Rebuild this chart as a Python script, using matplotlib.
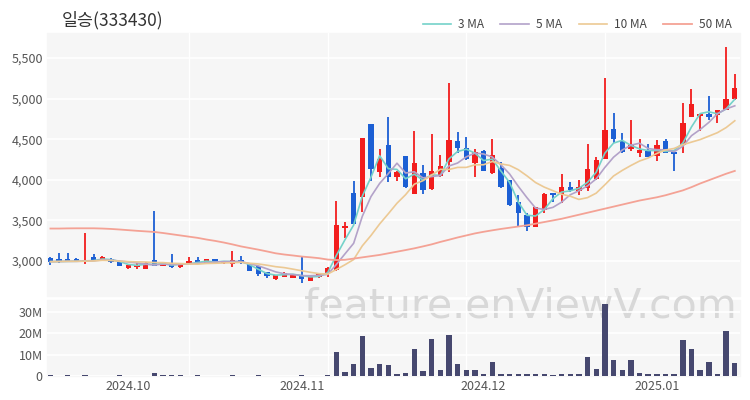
import numpy as np
import pandas as pd
import matplotlib
matplotlib.use("Agg")
import matplotlib.pyplot as plt
from matplotlib.patches import Rectangle
from matplotlib.ticker import FuncFormatter

plt.rcParams['font.family'] = ['Noto Sans CJK KR', 'DejaVu Sans']

# 종목 / 거래일
title = "일승(333430)"
holidays = ['2024-09-16', '2024-09-17', '2024-09-18', '2024-10-01', '2024-10-03',
            '2024-10-09', '2024-12-25', '2024-12-31', '2025-01-01']
dates = pd.bdate_range('2024-09-13', periods=80, freq='C', holidays=holidays)

# 시가 / 고가 / 저가 / 종가
opens = [3041, 3021, 3021, 3021, 2990, 3045, 3012, 3029, 2996, 2914,
         2922, 2906, 3012, 2938, 2971, 2922, 2971, 3012, 2971, 3021,
         2971, 2963, 3012, 2963, 2938, 2864, 2774, 2807, 2791, 2832,
         2758, 2799, 2840, 2889, 3410, 3842, 3793, 4688, 4101, 4429,
         4031, 4294, 3825, 4080, 3883, 4047, 4224, 4478, 4388, 4203,
         4360, 4088, 4142, 3998, 3731, 3567, 3423, 3628, 3834, 3825,
         3908, 3867, 3895, 4006, 4260, 4627, 4480, 4376, 4335, 4360,
         4294, 4483, 4347, 4429, 4770, 4786, 4811, 4799, 4860, 4992]
highs = [3045, 3094, 3094, 3033, 3341, 3086, 3058, 3035, 3000, 2950,
         2979, 2985, 3620, 2992, 3086, 2975, 3045, 3045, 3025, 3025,
         3000, 3127, 3062, 2965, 2942, 2868, 2827, 2860, 2836, 3062,
         2811, 2852, 2930, 3743, 3485, 3986, 4515, 4690, 4376, 4770,
         4105, 4298, 4606, 4183, 4565, 4306, 5197, 4593, 4524, 4376,
         4365, 4499, 4224, 4000, 3813, 3595, 3665, 3842, 3838, 4072,
         3978, 3998, 4441, 4277, 5250, 4828, 4573, 4737, 4499, 4442,
         4491, 4499, 4350, 4942, 5115, 4815, 5033, 4865, 5641, 5304]
lows = [2951, 2979, 2992, 2988, 2963, 3010, 3008, 2979, 2935, 2897,
        2897, 2900, 2935, 2935, 2920, 2918, 2968, 2963, 2968, 2968,
        2968, 2922, 2968, 2878, 2815, 2791, 2770, 2803, 2787, 2733,
        2755, 2795, 2807, 2880, 3280, 3450, 3608, 3990, 4031, 3977,
        3990, 3905, 3822, 3825, 3880, 4031, 4101, 4326, 4245, 4039,
        4110, 4072, 3905, 3680, 3431, 3374, 3420, 3595, 3731, 3710,
        3855, 3813, 3867, 4000, 4255, 4458, 4335, 4360, 4277, 4277,
        4236, 4327, 4113, 4327, 4770, 4606, 4737, 4696, 4855, 4984]
closes = [2992, 2996, 3000, 2996, 3008, 3012, 3053, 2988, 2938, 2947,
          2955, 2979, 2938, 2988, 2922, 2971, 3004, 2971, 3021, 2971,
          2996, 3012, 2971, 2881, 2840, 2815, 2823, 2856, 2832, 2774,
          2807, 2848, 2914, 3443, 3430, 3456, 4511, 4129, 4253, 4031,
          4101, 3908, 4203, 3875, 4113, 4170, 4491, 4388, 4253, 4347,
          4113, 4306, 3908, 3690, 3587, 3415, 3661, 3825, 3815, 3908,
          3870, 3908, 4129, 4244, 4614, 4499, 4347, 4429, 4368, 4285,
          4429, 4335, 4318, 4704, 4934, 4811, 4770, 4860, 4992, 5127]

# 거래량 (백만 주)
volume_m = [0.3, 0.2, 0.4, 0.2, 0.6, 0.2, 0.2, 0.2, 0.3, 0.2,
            0.2, 0.2, 1.6, 0.4, 0.5, 0.3, 0.2, 0.3, 0.2, 0.2,
            0.1, 0.3, 0.2, 0.2, 0.3, 0.2, 0.2, 0.2, 0.2, 0.5,
            0.2, 0.2, 0.3, 11.4, 2.1, 5.6, 18.9, 3.7, 5.8, 5.0,
            1.1, 1.3, 12.5, 2.4, 17.2, 2.7, 19.3, 5.6, 2.7, 2.7,
            1.1, 6.4, 1.0, 1.0, 1.0, 1.0, 1.0, 1.1, 0.6, 1.1,
            0.8, 0.8, 8.8, 3.2, 33.9, 7.5, 2.6, 7.5, 1.4, 1.1,
            1.1, 1.1, 1.0, 16.7, 12.5, 2.9, 6.6, 1.1, 21.2, 6.3]

# 50일 이동평균 (이전 데이터가 필요해서 그림에서 읽음)
ma50 = [3400, 3400, 3402, 3403, 3403, 3403, 3400, 3395, 3388, 3380,
        3372, 3365, 3358, 3345, 3330, 3315, 3300, 3285, 3265, 3248,
        3228, 3205, 3180, 3160, 3140, 3118, 3095, 3080, 3068, 3055,
        3046, 3035, 3018, 3012, 3015, 3030, 3045, 3060, 3075, 3095,
        3115, 3135, 3156, 3180, 3205, 3235, 3262, 3290, 3315, 3340,
        3360, 3378, 3395, 3410, 3425, 3440, 3460, 3480, 3500, 3520,
        3545, 3570, 3595, 3620, 3645, 3670, 3695, 3720, 3745, 3765,
        3785, 3810, 3840, 3870, 3910, 3955, 3995, 4035, 4075, 4110]

price_ticks = [3000, 3500, 4000, 4500, 5000, 5500]
vol_ticks = [0, 10, 20, 30]

RED = '#f21d1d'
BLUE = '#1c5fd4'
VOL = '#46486f'
BG = '#f6f6f6'

x = np.arange(len(closes))
o = np.array(opens)
c = np.array(closes)
cs = pd.Series(closes)
ma3 = cs.rolling(3, min_periods=1).mean()
ma5 = cs.rolling(5, min_periods=1).mean()
ma10 = cs.rolling(10, min_periods=1).mean()

fig = plt.figure(figsize=(7.5, 4), dpi=100)
L, W = 47 / 750, 693 / 750
ax = fig.add_axes([L, 1 - 296 / 400, W, 263 / 400])
axv = fig.add_axes([L, 1 - 376 / 400, W, 76 / 400])

# 패널 배경과 워터마크는 축 뒤에 그림
for a in (ax, axv):
    pos = a.get_position()
    fig.patches.append(Rectangle((pos.x0, pos.y0), pos.width, pos.height,
                                 transform=fig.transFigure, color=BG, zorder=0))
    a.set_facecolor('none')
    a.set_zorder(2)
fig.text(520 / 750, 1 - 318 / 400, "feature.enViewV.com", fontsize=29.5,
         color='#d8d8d8', family='DejaVu Sans', ha='center', va='baseline',
         zorder=1)

# 캔들
colors = np.where(c >= o, RED, BLUE)
ax.vlines(x, lows, highs, colors=colors, lw=1.3, zorder=3)
ax.bar(x, np.maximum(np.abs(c - o), 12), bottom=np.minimum(o, c), width=0.62,
       color=colors, zorder=3)

# 이동평균선
l3, = ax.plot(x, ma3, color='#74d2c9', lw=1.2, zorder=4)
l5, = ax.plot(x, ma5, color='#b3a2c9', lw=1.2, zorder=4)
l10, = ax.plot(x, ma10, color='#ecc994', lw=1.2, zorder=4)
l50, = ax.plot(x, ma50, color='#f4a295', lw=1.3, zorder=4)

ax.set_xlim(-0.4, 79.6)
ax.set_ylim(2569, 5809)
ax.set_yticks(price_ticks)
ax.yaxis.set_major_formatter(FuncFormatter(lambda v, _: f'{int(v):,}'))
ax.set_xticks([])

# 거래량
axv.bar(x, volume_m, width=0.62, color=VOL, zorder=3)
axv.set_xlim(-0.4, 79.6)
axv.set_ylim(0, 35.7)
axv.set_yticks(vol_ticks)
axv.set_yticklabels(['0' if v == 0 else f'{v}M' for v in vol_ticks])

# 월 시작일에 눈금
month_start = [i for i in range(1, len(dates)) if dates[i].month != dates[i - 1].month]
axv.set_xticks(month_start)
axv.set_xticklabels([dates[i].strftime('%Y.%m') for i in month_start])

for a in (ax, axv):
    for s in a.spines.values():
        s.set_visible(False)
    a.grid(axis='y', color='white', lw=1.2, zorder=1)
    for gx in range(16, 80, 16):
        a.axvline(gx, color='white', lw=1.0, zorder=1)
    a.tick_params(length=0, labelsize=9, labelcolor='#555555', pad=3)

fig.text(62 / 750, 1 - 20 / 400, title, fontsize=12.5, color='#333333', va='center')
fig.legend([l3, l5, l10, l50], ['3 MA', '5 MA', '10 MA', '50 MA'],
           loc='center right', bbox_to_anchor=(742 / 750, 1 - 25 / 400),
           ncol=4, frameon=False, fontsize=8.5, handlelength=2.4,
           columnspacing=1.4, handletextpad=0.6, labelcolor='#444444')

plt.savefig('out.png', dpi=100)
